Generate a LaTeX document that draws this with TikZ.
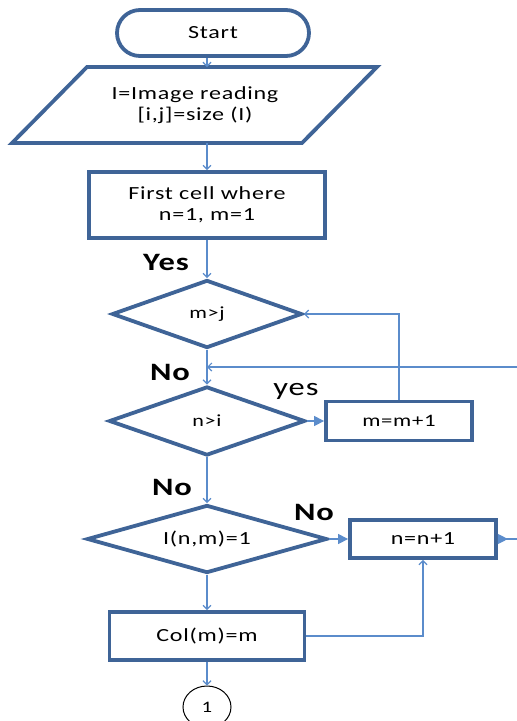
\documentclass[tikz,border=0pt]{standalone}
\usepackage{fontspec}
\setmainfont{Carlito}[FakeStretch=1.3,LetterSpace=4]
\usepackage{xcolor}
\usetikzlibrary{shapes.geometric,arrows.meta,calc}

\definecolor{boxblue}{HTML}{3F6497}
\definecolor{lineblue}{HTML}{5B8CCB}

\begin{document}
\begin{tikzpicture}[x=1pt,y=-1pt,
  box/.style={draw=boxblue, line width=3.8pt, fill=white, font=\fontsize{18.5}{21}\selectfont, align=center, inner sep=2pt},
  decision/.style={box, diamond, aspect=3.5, inner sep=0pt, font=\fontsize{17}{19}\selectfont},
  flow/.style={draw=lineblue, line width=1.2pt, -{Straight Barb[length=4pt,width=8pt]}},
  yesflow/.style={draw=lineblue, line width=1.2pt, -{Triangle[length=10pt,width=10pt]}},
  answer/.style={font=\fontsize{25}{27}\selectfont\bfseries}]
\useasboundingbox (0,0) rectangle (517,721);
\def\colx{207}

% Column of steps
\node[box, rounded corners=23pt, minimum width=192, minimum height=46] (start) at (213,33) {Start};
\draw[boxblue, line width=3.8pt, line join=miter] (87,67) -- (377,67) -- (302,143) -- (12,143) -- cycle;
\node[font=\fontsize{18.5}{21}\selectfont, align=center] (read) at (195,105) {I=Image reading\\{}[i,j]=size (I)};
\coordinate (readtop) at (\colx,67);
\coordinate (readbot) at (\colx,143);
\node[box, minimum width=236, minimum height=66] (init) at (\colx,205) {First cell where\\n=1, m=1};
\node[decision, minimum width=190, minimum height=68] (chkm) at (\colx,314) {m>j};
\node[decision, minimum width=196, minimum height=69] (chkn) at (\colx,421) {n>i};
\node[decision, font=\fontsize{18.5}{21}\selectfont, minimum width=240, minimum height=68] (chkp) at (\colx,539) {I(n,m)=1};
\node[box, minimum width=195, minimum height=48] (col) at (\colx,636) {Col(m)=m};
\node[draw=black, ellipse, line width=1pt, minimum width=48, minimum height=42, font=\fontsize{16}{18}\selectfont] (conn) at (\colx,707) {1};

% Side steps
\node[box, font=\fontsize{17.5}{20}\selectfont, minimum width=146, minimum height=39] (incm) at (399,421) {m=m+1};
\node[box, minimum width=146, minimum height=38] (incn) at (423,539) {n=n+1};

\coordinate (loopin) at (517,367);
\coordinate (loopout) at (517,539);

% Connectors
\draw[flow] (start.south -| readtop) -- (readtop);
\draw[flow] (readbot) -- (init.north);
\draw[flow] (init) -- (chkm);
\draw[flow] (chkm) -- (chkn);
\draw[flow] (loopin) -- (chkn.north |- loopin);
\draw[yesflow] (chkn.east) -- (incm.west);
\draw[flow] (incm.north) |- (chkm.east);
\draw[flow] (chkn) -- (chkp);
\draw[yesflow] (chkp.east) -- (incn.west);
\draw[draw=lineblue, line width=1.2pt, {Triangle[reversed,length=10pt,width=10pt]}-] (incn.east) -- (loopout);
\draw[flow] (chkp) -- (col);
\draw[flow] (col.east) -| (incn.south);
\draw[flow] (col) -- (conn);

% Answers
\node[answer] (ayes) at (166,262) {Yes};
\node[answer] (ano1) at (170,372) {No};
\node[font=\fontsize{25}{27}\selectfont] (ayes2) at (296,391) {yes};
\node[answer] (ano2) at (172,487) {No};
\node[answer] (ano3) at (314,512) {No};

\end{tikzpicture}
\end{document}
